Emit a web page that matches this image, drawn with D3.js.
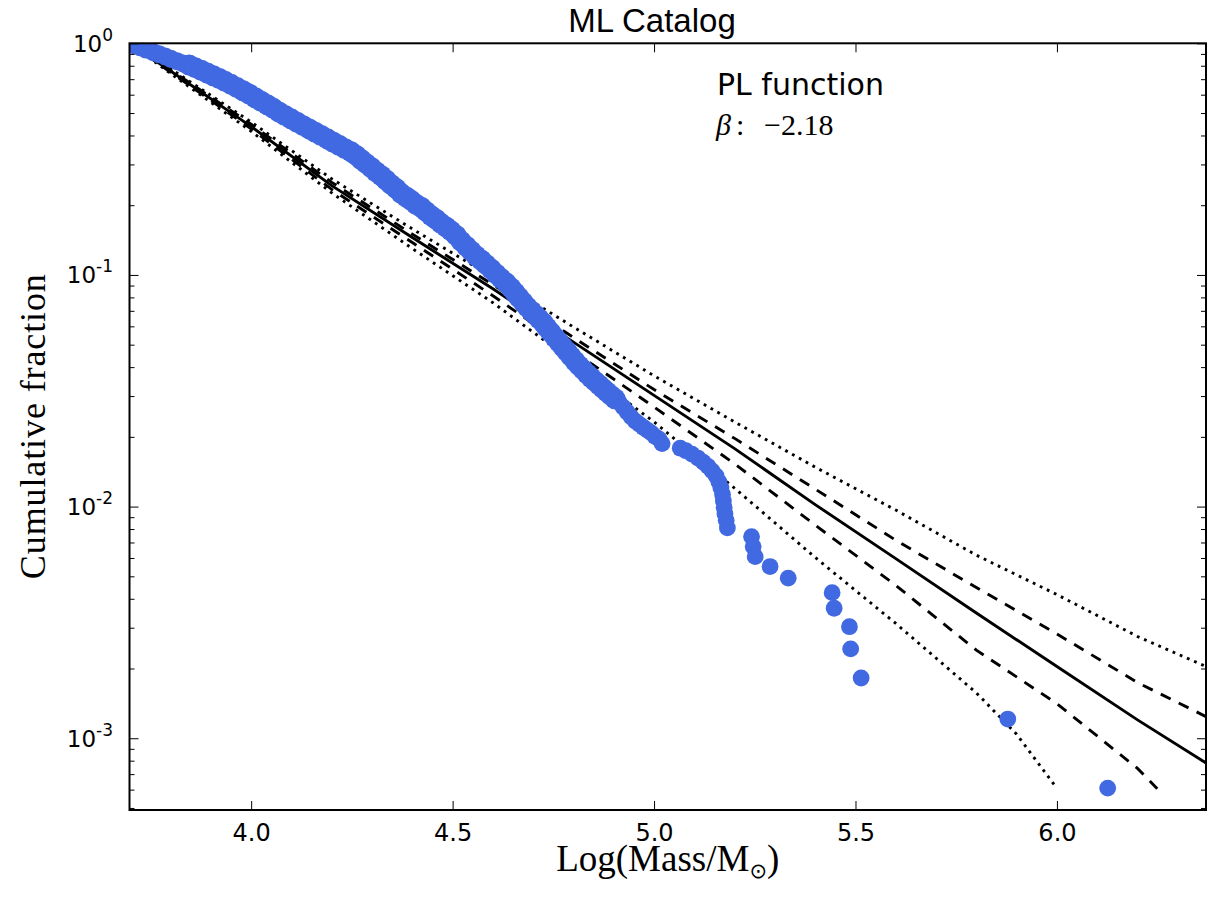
<!DOCTYPE html>
<html>
<head>
<meta charset="utf-8">
<script src="https://cdn.jsdelivr.net/npm/d3@7"></script>
<style>
  body { margin: 0; background: #fff; }
</style>
</head>
<body>
<div id="chart"></div>
<script>

// catalog points (log mass, cumulative fraction)
// first 108 are the dense run, then the small clump past 5.05, then the lone tail dots
const catLogMass = [3.698, 3.710, 3.725, 3.739, 3.757, 3.772, 3.787, 3.801, 3.816, 3.831,
  3.846, 3.861, 3.876, 3.891, 3.906, 3.921, 3.935, 3.950, 3.965, 3.980,
  3.995, 4.010, 4.025, 4.040, 4.055, 4.069, 4.084, 4.099, 4.114, 4.129,
  4.144, 4.159, 4.174, 4.189, 4.203, 4.218, 4.233, 4.248, 4.261, 4.273,
  4.285, 4.298, 4.310, 4.323, 4.335, 4.347, 4.360, 4.372, 4.385, 4.397,
  4.409, 4.422, 4.434, 4.447, 4.459, 4.471, 4.484, 4.496, 4.509, 4.521,
  4.534, 4.546, 4.558, 4.571, 4.583, 4.596, 4.608, 4.620, 4.633, 4.645,
  4.655, 4.665, 4.675, 4.685, 4.695, 4.705, 4.715, 4.725, 4.734, 4.744,
  4.754, 4.764, 4.774, 4.784, 4.794, 4.804, 4.814, 4.824, 4.834, 4.844,
  4.854, 4.864, 4.873, 4.883, 4.893, 4.903, 4.913, 4.923, 4.933, 4.943,
  4.953, 4.963, 4.973, 4.983, 4.993, 5.002, 5.012, 5.020,
  5.065, 5.079, 5.094, 5.109, 5.122, 5.134, 5.144, 5.154, 5.161, 5.166,
  5.170, 5.172, 5.174, 5.176, 5.179, 5.182,
  5.242, 5.246, 5.251, 5.288, 5.333, 5.442, 5.447, 5.485, 5.488, 5.514,
  5.878, 6.126];
const catFrac = [1.000, 0.980, 0.961, 0.940, 0.915, 0.896, 0.877, 0.857, 0.837, 0.819,
  0.806, 0.785, 0.765, 0.744, 0.724, 0.705, 0.685, 0.665, 0.644, 0.624,
  0.604, 0.582, 0.562, 0.543, 0.524, 0.505, 0.488, 0.472, 0.456, 0.441,
  0.427, 0.413, 0.400, 0.387, 0.375, 0.363, 0.351, 0.340, 0.328, 0.315,
  0.303, 0.291, 0.279, 0.268, 0.257, 0.246, 0.236, 0.225, 0.217, 0.210,
  0.202, 0.196, 0.188, 0.180, 0.174, 0.167, 0.161, 0.155, 0.148, 0.140,
  0.133, 0.127, 0.121, 0.116, 0.111, 0.106, 0.101, 0.0967, 0.0924, 0.0880,
  0.0839, 0.0799, 0.0763, 0.0728, 0.0699, 0.0672, 0.0646, 0.0621, 0.0592, 0.0565,
  0.0538, 0.0513, 0.0489, 0.0467, 0.0445, 0.0424, 0.0406, 0.0390, 0.0374, 0.0360,
  0.0347, 0.0335, 0.0324, 0.0313, 0.0302, 0.0292, 0.0282, 0.0269, 0.0256, 0.0244,
  0.0234, 0.0227, 0.0220, 0.0214, 0.0208, 0.0201, 0.0196, 0.0187,
  0.01787, 0.01743, 0.01685, 0.01620, 0.01555, 0.01491, 0.01426, 0.01357, 0.01278, 0.01204,
  0.01129, 0.01058, 0.00992, 0.00930, 0.00872, 0.00809,
  0.00742, 0.00672, 0.00608, 0.00551, 0.00491, 0.00425, 0.00364, 0.00303, 0.00243, 0.00182,
  0.00121, 0.000609];

// power law model: median (solid), 1 sigma (dashed), 2 sigma (dotted)
const modelLogMass = [3.698, 3.8, 4.0, 4.2, 4.4, 4.6, 4.8, 5.0, 5.2, 5.4, 5.6, 5.8, 6.0, 6.2, 6.37];
const modelMedian = [1, 0.759, 0.437, 0.243, 0.145, 0.0871, 0.0513, 0.0302, 0.0178, 0.0102, 0.00596, 0.00347, 0.00204, 0.00120, 0.000782];
const modelUp1 = [1, 0.767, 0.447, 0.251, 0.150, 0.0908, 0.0537, 0.0320, 0.0197, 0.0119, 0.00716, 0.00447, 0.00282, 0.00174, 0.00124];
const modelUp2 = [1, 0.776, 0.457, 0.260, 0.158, 0.0977, 0.0596, 0.0367, 0.0232, 0.0148, 0.00966, 0.00617, 0.00417, 0.00275, 0.00204];
const lo1LogMass = [3.698, 3.8, 4.0, 4.2, 4.4, 4.6, 4.8, 5.0, 5.2, 5.4, 5.6, 5.8, 6.0, 6.2, 6.249];
const modelLo1 = [1, 0.750, 0.427, 0.234, 0.138, 0.0813, 0.0468, 0.0269, 0.0153, 0.00832, 0.00457, 0.00240, 0.00141, 0.000741, 0.000605];
const lo2LogMass = [3.698, 3.8, 4.0, 4.2, 4.4, 4.6, 4.8, 5.0, 5.2, 5.4, 5.6, 5.8, 5.9, 5.993];
const modelLo2 = [1, 0.741, 0.417, 0.226, 0.130, 0.0759, 0.0422, 0.0232, 0.0120, 0.00603, 0.00313, 0.00157, 0.00104, 0.000631];

const xTicks = [4.0, 4.5, 5.0, 5.5, 6.0];
const yTicks = [1, 0.1, 0.01, 0.001];
const yTickExp = ["0", "-1", "-2", "-3"];

const fitName = "PL function";
const betaVal = "\u22122.18";

var width = 1218, height = 900;
// plot box edges (don't call these top/left, window.top is read only)
var pLeft = 129.5, pRight = 1206, pTop = 43.3, pBottom = 810;

// dot size: the middle of the dense run looks fatter in the original
function dotR(i) {
  if (i < 10) return 9;
  if (i < 96) return 10.5;
  return 8.4;
}

var svg = d3.select("#chart").append("svg")
  .attr("width", width)
  .attr("height", height)
  .style("font-family", "'DejaVu Sans', sans-serif");

var x = d3.scaleLinear().domain([3.698, 6.37]).range([pLeft, pRight]);
var y = d3.scaleLog().domain([4.9e-4, 1]).range([pBottom, pTop]);

svg.append("clipPath").attr("id", "plotclip")
  .append("rect")
  .attr("x", pLeft).attr("y", pTop)
  .attr("width", pRight - pLeft).attr("height", pBottom - pTop);

var plot = svg.append("g").attr("clip-path", "url(#plotclip)");

function zip(xs, ys) { return xs.map((d, i) => [d, ys[i]]); }

var line = d3.line().x(d => x(d[0])).y(d => y(d[1]));

var models = [
  { data: zip(modelLogMass, modelUp2), dash: "2.8,5" },
  { data: zip(lo2LogMass, modelLo2), dash: "2.8,5" },
  { data: zip(modelLogMass, modelUp1), dash: "11,9" },
  { data: zip(lo1LogMass, modelLo1), dash: "11,9" },
  { data: zip(modelLogMass, modelMedian), dash: null }
];

plot.selectAll("path.model")
  .data(models)
  .enter()
  .append("path")
  .attr("class", "model")
  .attr("d", d => line(d.data))
  .attr("fill", "none")
  .attr("stroke", "#000")
  .attr("stroke-width", 2.9)
  .attr("stroke-dasharray", d => d.dash);

// catalog dots on top
plot.append("g")
  .selectAll("circle")
  .data(zip(catLogMass, catFrac))
  .enter()
  .append("circle")
  .attr("cx", d => x(d[0]))
  .attr("cy", d => y(d[1]))
  .attr("r", (d, i) => dotR(i))
  .style("fill", "#4169e1");

// ticks on all four sides, pointing in
var yMinor = [];
[1e-4, 1e-3, 1e-2, 1e-1].forEach(function (dec) {
  for (var m = 2; m <= 9; m++) {
    var v = m * dec;
    if (v >= 4.9e-4 && v < 1) yMinor.push(v);
  }
});

function tickStyle(g) {
  g.select(".domain").remove();
  g.selectAll(".tick line").attr("stroke", "#000").attr("stroke-width", 1);
}

svg.append("g")
  .attr("transform", "translate(0," + pBottom + ")")
  .call(d3.axisBottom(x).tickValues(xTicks).tickSize(-9).tickPadding(14).tickFormat(d3.format(".1f")))
  .call(tickStyle)
  .attr("font-size", null)
  .attr("font-family", null)
  .selectAll("text")
  .style("font-family", "'DejaVu Sans', sans-serif")
  .style("font-size", "24px")
  .attr("fill", "#000");

svg.append("g")
  .attr("transform", "translate(0," + pTop + ")")
  .call(d3.axisTop(x).tickValues(xTicks).tickSize(-9).tickFormat(""))
  .call(tickStyle);

[[d3.axisLeft, pLeft], [d3.axisRight, pRight]].forEach(function (a) {
  svg.append("g")
    .attr("transform", "translate(" + a[1] + ",0)")
    .call(a[0](y).tickValues(yTicks).tickSize(-9).tickFormat(""))
    .call(tickStyle);
  svg.append("g")
    .attr("transform", "translate(" + a[1] + ",0)")
    .call(a[0](y).tickValues(yMinor).tickSize(-5).tickFormat(""))
    .call(tickStyle);
});

// y tick labels as 10^n
var yLab = svg.append("g")
  .selectAll("text")
  .data(yTicks)
  .enter()
  .append("text")
  .attr("x", 113)
  .attr("y", d => y(d) + 8.5)
  .attr("text-anchor", "end")
  .style("font-size", "23px")
  .attr("fill", "#000");
yLab.append("tspan").text("10");
yLab.append("tspan")
  .attr("dy", -11)
  .style("font-size", "17px")
  .text((d, i) => yTickExp[i]);

// frame
svg.append("rect")
  .attr("x", pLeft).attr("y", pTop)
  .attr("width", pRight - pLeft).attr("height", pBottom - pTop)
  .attr("fill", "none")
  .attr("stroke", "#000")
  .attr("stroke-width", 2);

// title + labels
svg.append("text")
  .attr("x", 652)
  .attr("y", 31.7)
  .attr("text-anchor", "middle")
  .style("font-family", "'Liberation Sans', Arial, sans-serif")
  .style("font-size", "33px")
  .text("ML Catalog");

var xl = svg.append("text")
  .attr("x", (pLeft + pRight) / 2)
  .attr("y", 871)
  .attr("text-anchor", "middle")
  .style("font-family", "'Liberation Serif', serif")
  .style("font-size", "37px");
xl.append("tspan").text("Log(Mass/M");
xl.append("tspan").attr("dy", 7).style("font-size", "21px").style("font-family", "'DejaVu Sans', sans-serif").text("\u2299");
xl.append("tspan").attr("dy", -7).text(")");

svg.append("text")
  .attr("transform", "translate(45," + (pTop + pBottom) / 2 + ") rotate(-90)")
  .attr("text-anchor", "middle")
  .style("font-family", "'Liberation Serif', serif")
  .style("font-size", "36px")
  .attr("textLength", 305)
  .attr("lengthAdjust", "spacing")
  .text("Cumulative fraction");

svg.append("text")
  .attr("x", 717)
  .attr("y", 95)
  .style("font-size", "30px")
  .text(fitName);

var bt = svg.append("text")
  .attr("y", 135)
  .style("font-family", "'Liberation Serif', serif")
  .style("font-size", "30px");
bt.append("tspan").attr("x", 716).style("font-style", "italic").text("\u03b2");
bt.append("tspan").attr("x", 736).text(":");
bt.append("tspan").attr("x", 764).text(betaVal);

</script>
</body>
</html>
